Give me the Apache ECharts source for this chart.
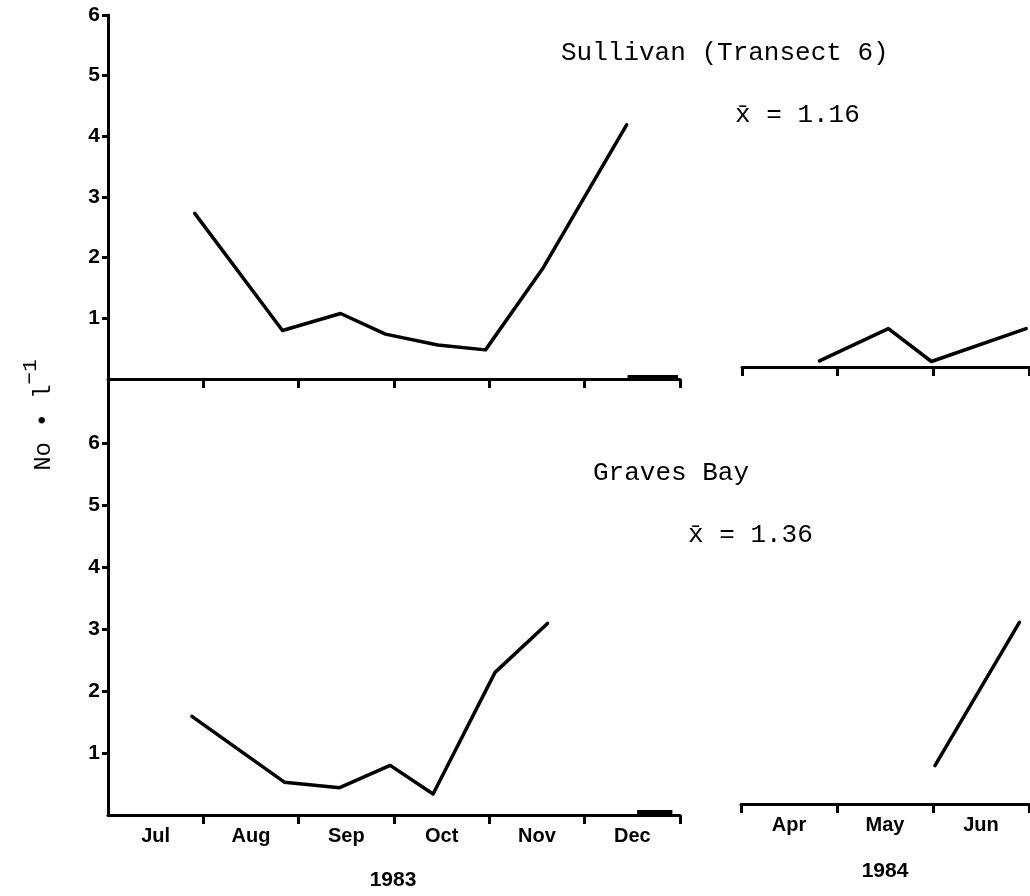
<!DOCTYPE html>
<html>
<head>
<meta charset="utf-8">
<script src="https://cdn.jsdelivr.net/npm/echarts@6/dist/echarts.min.js"></script>
<style>
  html, body { margin: 0; padding: 0; background: #fff; }
  #chart { width: 1030px; height: 896px; }
</style>
</head>
<body>
<div id="chart"></div>
<script>
// Month labels for the two sampling seasons
const months1983 = ['Jul', 'Aug', 'Sep', 'Oct', 'Nov', 'Dec'];
const months1984 = ['Apr', 'May', 'Jun'];
const yTickValues = [1, 2, 3, 4, 5, 6];

// Sampling positions in months from the start of the first month of each season
const sullivan1983X = [0.91, 1.83, 2.44, 2.91, 3.46, 3.96, 4.56, 5.44];
const sullivan1983Y = [2.73, 0.80, 1.08, 0.74, 0.56, 0.48, 1.82, 4.19];
const sullivan1984X = [0.81, 1.53, 1.98, 2.97];
const sullivan1984Y = [0.10, 0.63, 0.09, 0.63];

const graves1983X = [0.88, 1.85, 2.43, 2.96, 3.41, 4.06, 4.61];
const graves1983Y = [1.59, 0.53, 0.44, 0.80, 0.34, 2.30, 3.09];
const graves1984X = [2.02, 2.90];
const graves1984Y = [0.62, 2.93];

// Axis-break marks at the end of the 1983 axis (month span, height)
const breakMark1983Top = [5.45, 5.98, 0.04];
const breakMark1983Bottom = [5.55, 5.92, 0.06];

const pairs = (xs, ys) => xs.map((x, i) => [x, ys[i]]);

const INK = '#000';
const sansBold = '"Liberation Sans", Arial, sans-serif';
const mono = '"Liberation Mono", "DejaVu Sans Mono", monospace';

function xAxis(gridIndex, nMonths, labels, tickVals) {
  return {
    type: 'value', gridIndex, min: 0, max: nMonths, interval: 1,
    axisLine: { show: true, onZero: false, lineStyle: { color: INK, width: 3 } },
    axisTick: { show: true, inside: false, length: 9, customValues: tickVals,
                lineStyle: { color: INK, width: 3 } },
    axisLabel: labels ? {
      show: true, margin: 11, color: INK, fontFamily: sansBold, fontWeight: 'bold', fontSize: 20,
      customValues: labels.map((_, i) => i + 0.5),
      formatter: v => labels[Math.floor(v)]
    } : { show: false },
    splitLine: { show: false }
  };
}

function yAxis(gridIndex, max, visible) {
  return {
    type: 'value', gridIndex, min: 0, max, interval: 1, show: visible,
    axisLine: { show: true, onZero: false, lineStyle: { color: INK, width: 3 } },
    axisTick: { show: true, length: 6, customValues: yTickValues, lineStyle: { color: INK, width: 3 } },
    axisLabel: { show: true, margin: 8, color: INK, fontFamily: sansBold, fontWeight: 'bold',
                 fontSize: 21, customValues: yTickValues },
    splitLine: { show: false }
  };
}

function lineSeries(idx, data, breakMark) {
  const s = {
    type: 'line', xAxisIndex: idx, yAxisIndex: idx, data,
    showSymbol: false, symbol: 'none', clip: false,
    lineStyle: { color: INK, width: 3.5, cap: 'round', join: 'round' },
    animation: false
  };
  if (breakMark) {
    s.markLine = {
      silent: true, symbol: 'none', animation: false,
      label: { show: false },
      lineStyle: { color: INK, width: 4, type: 'solid' },
      data: [[{ coord: [breakMark[0], breakMark[2]] }, { coord: [breakMark[1], breakMark[2]] }]]
    };
  }
  return s;
}

const chart = echarts.init(document.getElementById('chart'), null, { renderer: 'canvas' });

chart.setOption({
  backgroundColor: '#fff',
  animation: false,
  grid: [
    { left: 108, top: 15, width: 572, height: 364 },   // Sullivan 1983
    { left: 742, top: 1, width: 287, height: 366 },    // Sullivan 1984
    { left: 108, top: 381, width: 572, height: 434 },  // Graves Bay 1983
    { left: 741, top: 370, width: 288, height: 434 }   // Graves Bay 1984
  ],
  xAxis: [
    xAxis(0, 6, null, [1, 2, 3, 4, 5, 6]),
    xAxis(1, 3, null, [0, 1, 2, 3]),
    xAxis(2, 6, months1983, [1, 2, 3, 4, 5, 6]),
    xAxis(3, 3, months1984, [0, 1, 2, 3])
  ],
  yAxis: [
    yAxis(0, 6, true),
    yAxis(1, 6, false),
    yAxis(2, 7, true),
    yAxis(3, 7, false)
  ],
  series: [
    lineSeries(0, pairs(sullivan1983X, sullivan1983Y), breakMark1983Top),
    lineSeries(1, pairs(sullivan1984X, sullivan1984Y)),
    lineSeries(2, pairs(graves1983X, graves1983Y), breakMark1983Bottom),
    lineSeries(3, pairs(graves1984X, graves1984Y))
  ],
  graphic: [
    { type: 'text', x: 561, y: 53, style: { text: 'Sullivan (Transect 6)', font: '26px ' + mono, fill: INK, align: 'left', verticalAlign: 'middle' } },
    { type: 'text', x: 735, y: 115, style: { text: 'x\u0304 = 1.16', font: '26px ' + mono, fill: INK, align: 'left', verticalAlign: 'middle' } },
    { type: 'text', x: 593, y: 473, style: { text: 'Graves Bay', font: '26px ' + mono, fill: INK, align: 'left', verticalAlign: 'middle' } },
    { type: 'text', x: 688, y: 535, style: { text: 'x\u0304 = 1.36', font: '26px ' + mono, fill: INK, align: 'left', verticalAlign: 'middle' } },
    { type: 'text', x: 393, y: 880, style: { text: '1983', font: 'bold 21px ' + sansBold, fill: INK, align: 'center', verticalAlign: 'middle' } },
    { type: 'text', x: 885, y: 871, style: { text: '1984', font: 'bold 21px ' + sansBold, fill: INK, align: 'center', verticalAlign: 'middle' } },
    {
      type: 'text', x: 38, y: 415, rotation: Math.PI / 2,
      style: {
        text: '{a|No \u2022 l}{s|\u22121}',
        align: 'center', verticalAlign: 'middle', fill: INK,
        rich: {
          a: { fontFamily: mono, fontSize: 24, lineHeight: 36, verticalAlign: 'bottom', fill: INK },
          s: { fontFamily: mono, fontSize: 21, lineHeight: 22, verticalAlign: 'top', fill: INK }
        }
      }
    }
  ]
});
</script>
</body>
</html>
